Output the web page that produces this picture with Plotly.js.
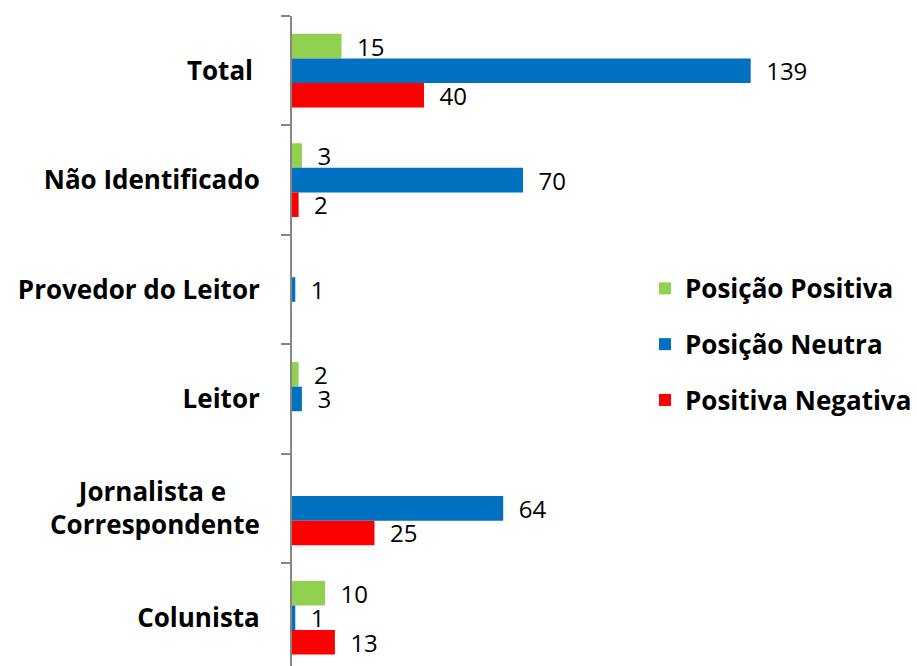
<!DOCTYPE html>
<html>
<head>
<meta charset="utf-8">
<script src="https://cdn.plot.ly/plotly-3.0.1.min.js"></script>
<style>html,body{margin:0;padding:0;background:#fff;}</style>
</head>
<body>
<div id="chart" style="width:917px;height:666px;"></div>
<script>
const categories = ["Total", "Não Identificado", "Provedor do Leitor", "Leitor", "Jornalista e Correspondente", "Colunista"];
const categoryLabels = ["Total\u00a0", "Não Identificado", "Provedor do Leitor", "Leitor", "Jornalista e\u00a0\u00a0\u00a0\u00a0\u00a0<br>Correspondente", "Colunista"];
const positiva = [15, 3, 0, 2, 0, 10];
const neutra = [139, 70, 1, 3, 64, 1];
const negativa = [40, 2, 0, 0, 25, 13];
const seriesNames = ["Posição Positiva", "Posição Neutra", "Positiva Negativa"];
const seriesColors = ["#92D050", "#0070C0", "#FF0000"];

const pad = "\u00a0\u00a0";
function mk(vals, i) {
  return {
    type: "bar",
    orientation: "h",
    name: seriesNames[i],
    legendgroup: "g" + i,
    y: categories,
    x: vals,
    text: vals.map(v => v ? pad + v : ""),
    textposition: "outside",
    constraintext: "none",
    cliponaxis: false,
    textfont: {family: "Open Sans", size: 24, color: "#000"},
    marker: {color: seriesColors[i], line: {width: 0}},
    hoverinfo: "none"
  };
}
const data = [mk(positiva, 0), mk(neutra, 1), mk(negativa, 2)];

const layout = {
  width: 917, height: 666,
  margin: {l: 292, r: 63, t: 16, b: 0},
  paper_bgcolor: "#fff", plot_bgcolor: "#fff",
  barmode: "group",
  bargap: 0.326,
  bargroupgap: 0,
  showlegend: true,
  legend: {
    x: 0.629, xanchor: "left", y: 0.617, yanchor: "top",
    tracegroupgap: 19,
    font: {family: "Open Sans", size: 26, color: "#000", weight: "bold"},
    bgcolor: "rgba(0,0,0,0)"
  },
  xaxis: {
    range: [0, 170], showline: false, showgrid: false, zeroline: false,
    showticklabels: false, ticks: "", fixedrange: true
  },
  yaxis: {
    type: "category",
    categoryorder: "array", categoryarray: categories,
    tickmode: "array", tickvals: categories, ticktext: categoryLabels,
    range: [5.441, -0.5],
    showline: true, linecolor: "#868686", linewidth: 2,
    ticks: "outside", tickson: "boundaries", ticklen: 9, tickwidth: 2, tickcolor: "#868686",
    ticklabelstandoff: 25,
    showgrid: false, zeroline: false,
    tickfont: {family: "Open Sans", size: 26, color: "#000", weight: "bold"}
  }
};
Plotly.newPlot("chart", data, layout, {displayModeBar: false, staticPlot: true});
</script>
</body>
</html>
